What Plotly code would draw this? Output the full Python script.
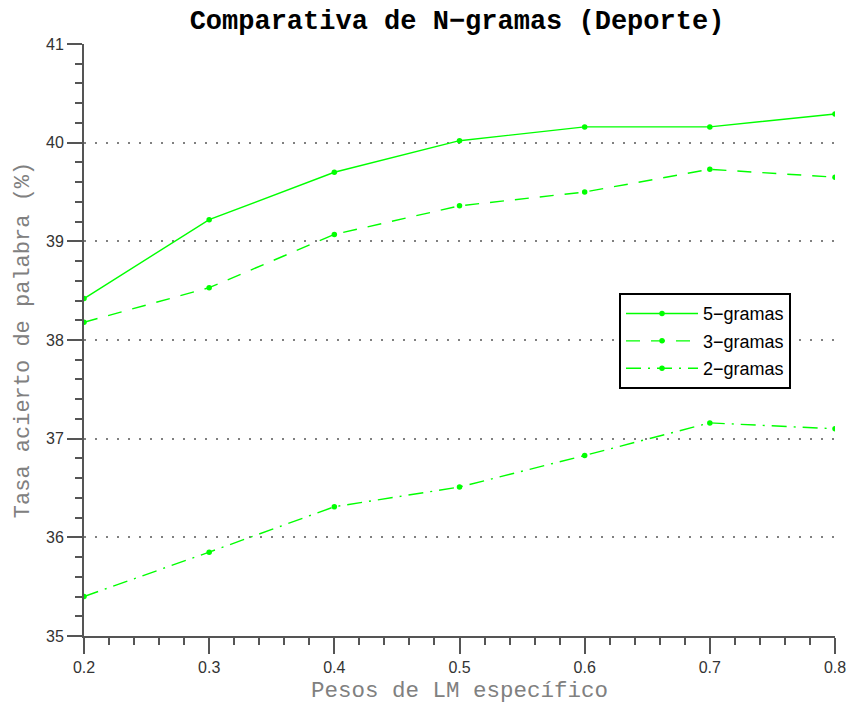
import plotly.graph_objects as go

pesos = [0.2, 0.3, 0.4, 0.5, 0.6, 0.7, 0.8]
cinco_gramas = [38.42, 39.22, 39.70, 40.02, 40.16, 40.16, 40.29]
tres_gramas = [38.18, 38.53, 39.07, 39.36, 39.50, 39.73, 39.65]
dos_gramas = [35.40, 35.85, 36.31, 36.51, 36.83, 37.16, 37.10]
nombres = ["5\u2212gramas", "3\u2212gramas", "2\u2212gramas"]
x_ticks = [0.2, 0.3, 0.4, 0.5, 0.6, 0.7, 0.8]
y_ticks = [35, 36, 37, 38, 39, 40, 41]

green = "#00ff00"
fig = go.Figure()
for i, (ys, name, dash) in enumerate([
    (cinco_gramas, nombres[0], "solid"),
    (tres_gramas, nombres[1], "14px,11px"),
    (dos_gramas, nombres[2], "15px,7px,2px,7px"),
]):
    fig.add_trace(go.Scatter(
        x=pesos, y=ys, name=name, mode="lines+markers", legendgroup=f"g{i}",
        line=dict(color=green, width=1.4, dash=dash),
        marker=dict(color=green, size=5.5),
    ))

fig.update_layout(
    width=851, height=706,
    margin=dict(l=84, r=16, t=44, b=70),
    paper_bgcolor="white", plot_bgcolor="white",
    title=dict(text="<b>Comparativa de N\u2212gramas (Deporte)</b>",
               font=dict(family="Liberation Mono", size=27, color="black"),
               x=0.537, xanchor="center", y=0.972, yanchor="middle"),
    showlegend=True,
    legend=dict(x=0.7124, y=0.579, xanchor="left", yanchor="top",
                bgcolor="white", bordercolor="black", borderwidth=2,
                font=dict(family="Liberation Sans", size=18, color="black"),
                traceorder="grouped", tracegroupgap=1, itemwidth=72),
    xaxis=dict(
        range=[0.2, 0.8], tickvals=x_ticks, ticktext=[f"{v:.1f}" for v in x_ticks],
        showgrid=False, zeroline=False, automargin=False,
        showline=True, linecolor="#555555", linewidth=2,
        ticks="outside", ticklen=16, tickwidth=2, tickcolor="#555555",
        minor=dict(dtick=0.02, ticks="outside", ticklen=7, tickwidth=2, tickcolor="#555555", showgrid=False),
        tickfont=dict(family="Liberation Sans", size=16, color="#333333"),
        title=dict(text="Pesos de LM espec\u00edfico",
                   font=dict(family="Liberation Mono", size=22.5, color="#808080"),
                   standoff=6),
    ),
    yaxis=dict(
        range=[35, 41], tickvals=y_ticks,
        showgrid=True, gridcolor="#808080", griddash="2px,9px", gridwidth=1.5,
        zeroline=False, automargin=False,
        showline=True, linecolor="#555555", linewidth=2,
        ticks="outside", ticklen=15, tickwidth=2, tickcolor="#555555",
        minor=dict(dtick=0.2, ticks="outside", ticklen=7, tickwidth=2, tickcolor="#555555", showgrid=False),
        tickfont=dict(family="Liberation Sans", size=16, color="#333333"),
        title=dict(text="Tasa acierto de palabra (%)",
                   font=dict(family="Liberation Mono", size=22, color="#808080"),
                   standoff=10),
    ),
)

fig.write_html("out.html")
